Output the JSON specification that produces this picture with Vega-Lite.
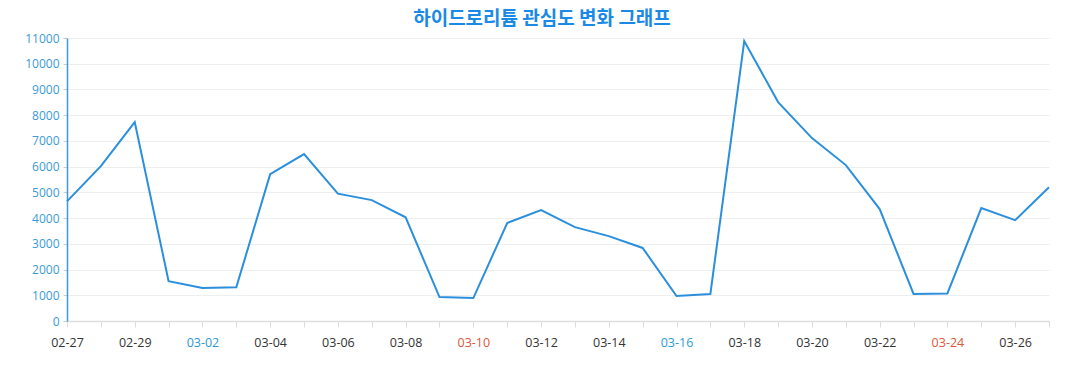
{
  "$schema": "https://vega.github.io/schema/vega-lite/v6.json",
  "width": 982,
  "height": 283,
  "autosize": "none",
  "padding": {"left": 67, "top": 38, "right": 28, "bottom": 69},
  "background": "white",
  "title": {
    "text": "하이드로리튬 관심도 변화 그래프",
    "font": "Noto Sans CJK KR",
    "fontSize": 19,
    "fontWeight": "bold",
    "color": "#1a8ae6",
    "anchor": "middle",
    "dx": -16,
    "offset": 3
  },
  "data": {
    "values": [
      {"d": "02-27", "v": 4650},
      {"d": "02-28", "v": 6020},
      {"d": "02-29", "v": 7730},
      {"d": "03-01", "v": 1550},
      {"d": "03-02", "v": 1280},
      {"d": "03-03", "v": 1310},
      {"d": "03-04", "v": 5710},
      {"d": "03-05", "v": 6490},
      {"d": "03-06", "v": 4950},
      {"d": "03-07", "v": 4700},
      {"d": "03-08", "v": 4030},
      {"d": "03-09", "v": 930},
      {"d": "03-10", "v": 890},
      {"d": "03-11", "v": 3810},
      {"d": "03-12", "v": 4310},
      {"d": "03-13", "v": 3650},
      {"d": "03-14", "v": 3300},
      {"d": "03-15", "v": 2840},
      {"d": "03-16", "v": 970},
      {"d": "03-17", "v": 1050},
      {"d": "03-18", "v": 10880},
      {"d": "03-19", "v": 8510},
      {"d": "03-20", "v": 7110},
      {"d": "03-21", "v": 6060},
      {"d": "03-22", "v": 4350},
      {"d": "03-23", "v": 1050},
      {"d": "03-24", "v": 1070},
      {"d": "03-25", "v": 4390},
      {"d": "03-26", "v": 3920},
      {"d": "03-27", "v": 5200}
    ]
  },
  "mark": {"type": "line", "color": "#2b8fdd", "strokeWidth": 2},
  "encoding": {
    "x": {
      "field": "d",
      "type": "ordinal",
      "sort": null,
      "scale": {"type": "point", "padding": 0},
      "axis": {
        "title": null,
        "labelAngle": 0,
        "labelFont": "Open Sans",
        "labelFontSize": 12.5,
        "labelColor": {
          "condition": [
            {"test": "datum.value == '03-02' || datum.value == '03-16'", "value": "#2a9ad6"},
            {"test": "datum.value == '03-10' || datum.value == '03-24'", "value": "#e0563a"}
          ],
          "value": "#333333"
        },
        "labelExpr": "round(datum.index * 29) % 2 == 0 ? datum.label : ''",
        "labelPadding": 9,
        "labelOverlap": false,
        "domainColor": "#dddddd",
        "domainWidth": 1.5,
        "tickColor": "#dddddd",
        "tickSize": 6,
        "grid": false
      }
    },
    "y": {
      "field": "v",
      "type": "quantitative",
      "scale": {"domain": [0, 11000], "nice": false},
      "axis": {
        "title": null,
        "values": [0,1000,2000,3000,4000,5000,6000,7000,8000,9000,10000,11000],
        "format": "d",
        "labelFont": "Open Sans",
        "labelFontSize": 12,
        "labelColor": "#3a9ad9",
        "labelPadding": 4,
        "domainColor": "#3a9ad9",
        "domainWidth": 1.5,
        "tickColor": "#cccccc",
        "tickSize": 4,
        "gridColor": "#eeeeee",
        "gridWidth": 1
      }
    }
  },
  "config": {"view": {"stroke": null}}
}
